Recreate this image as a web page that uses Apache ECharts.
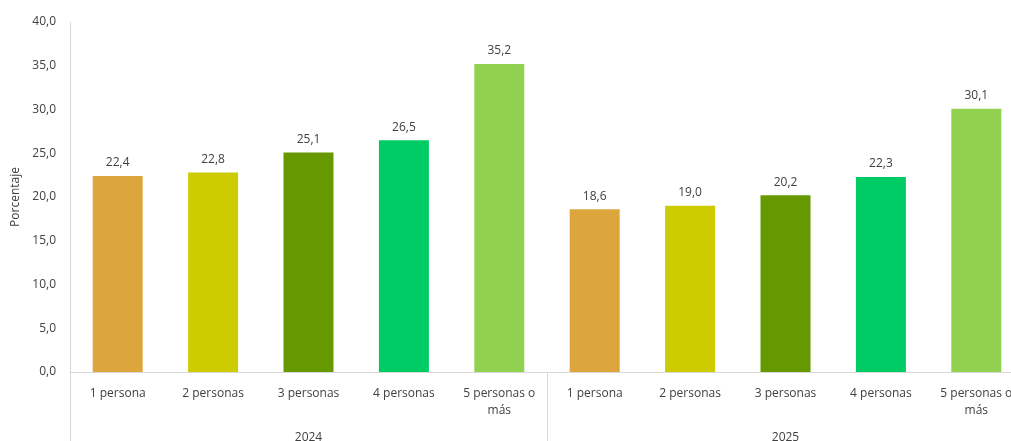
<!DOCTYPE html>
<html><head><meta charset="utf-8">
<script src="https://cdn.jsdelivr.net/npm/echarts@6/dist/echarts.min.js"></script>
<style>html,body{margin:0;padding:0;background:#fff}#c{width:1011px;height:441px}</style>
</head><body><div id="c"></div>
<script>
const categories = ['1 persona', '2 personas', '3 personas', '4 personas', '5 personas o más'];
const years = ['2024', '2025'];
const values2024 = [22.4, 22.8, 25.1, 26.5, 35.2];
const values2025 = [18.6, 19.0, 20.2, 22.3, 30.1];
const colors = ['#DDA63C', '#CCCC00', '#669900', '#00CC66', '#92D050'];
const yTicks = { min: 0, max: 40, interval: 5 };

const xCats = [], data = [];
years.forEach((y, yi) => {
  const vals = yi === 0 ? values2024 : values2025;
  categories.forEach((c, i) => {
    xCats.push(c);
    data.push({ value: vals[i], itemStyle: { color: colors[i] } });
  });
});
const font = '"Open Sans", "Noto Sans", sans-serif';
const chart = echarts.init(document.getElementById('c'));
chart.setOption({
  animation: false,
  textStyle: { fontFamily: font },
  grid: { left: 70, width: 954, top: 22, height: 350, containLabel: false, outerBoundsMode: 'none' },
  xAxis: [{
    type: 'category', data: xCats,
    axisLine: { lineStyle: { color: '#d9d9d9', width: 1 } },
    axisTick: { show: false },
    axisLabel: { interval: 0, color: '#404040', fontSize: 12, fontFamily: font, margin: 13, lineHeight: 17,
      formatter: v => v.replace(' o más', ' o\nmás') }
  }, {
    type: 'category', data: years, position: 'bottom',
    axisLine: { show: false },
    axisTick: { show: true, length: 70, lineStyle: { color: '#d9d9d9' } },
    splitLine: { show: true, interval: (i) => i === 1, lineStyle: { color: '#d9d9d9' } },
    axisLabel: { color: '#404040', fontSize: 12, fontFamily: font, margin: 60 }
  }],
  yAxis: {
    type: 'value', min: yTicks.min, max: yTicks.max, interval: yTicks.interval,
    name: 'Porcentaje', nameLocation: 'middle', nameGap: 48,
    nameTextStyle: { color: '#404040', fontSize: 12, fontFamily: font },
    axisLine: { show: false }, axisTick: { show: false }, splitLine: { show: false },
    axisLabel: { color: '#404040', fontSize: 12, fontFamily: font, margin: 14,
      formatter: v => v.toFixed(1).replace('.', ',') }
  },
  series: [{
    type: 'bar', data: data, barWidth: 50, xAxisIndex: 0,
    label: { show: true, position: 'top', distance: 7, color: '#404040', fontSize: 12, fontFamily: font,
      formatter: p => p.value.toFixed(1).replace('.', ',') }
  }]
});
</script></body></html>
